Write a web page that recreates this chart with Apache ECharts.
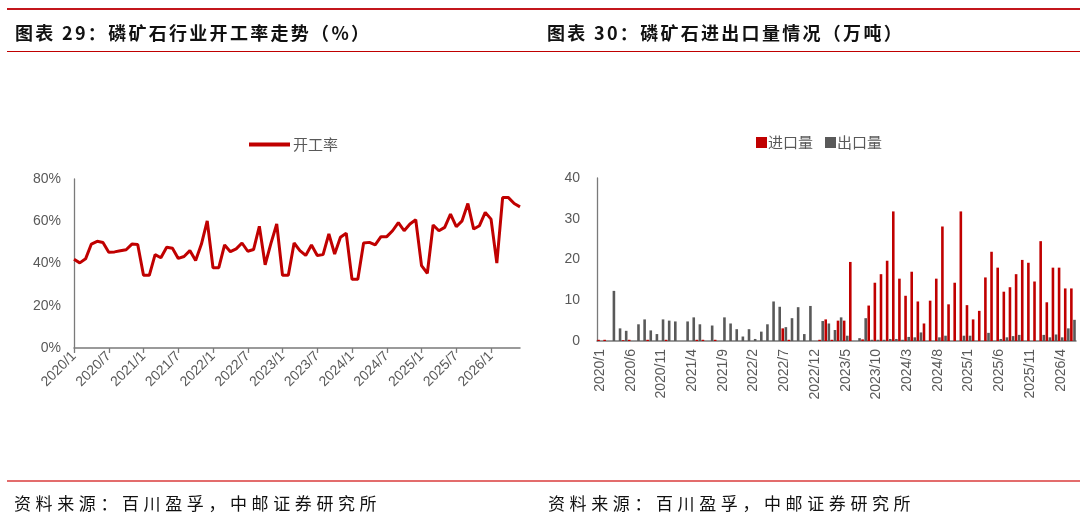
<!DOCTYPE html>
<html>
<head>
<meta charset="utf-8">
<script src="https://cdn.jsdelivr.net/npm/echarts@6/dist/echarts.min.js"></script>
<style>
  html, body { margin: 0; padding: 0; background: #fff; }
  #wrap { position: relative; width: 1080px; height: 528px; overflow: hidden; }
  #chart { position: absolute; left: 0; top: 0; width: 1080px; height: 528px; }
  .rule { position: absolute; left: 7px; right: 0; }
  .title { position: absolute; top: 19px; font-family: "Noto Sans CJK SC", sans-serif; font-weight: bold;
           font-size: 18px; letter-spacing: 2.3px; color: #111; white-space: nowrap; }
  .source { position: absolute; top: 490px; font-family: "Noto Sans CJK SC", sans-serif;
            font-size: 17px; letter-spacing: 4.6px; color: #111; white-space: nowrap; }
</style>
</head>
<body>
<div id="wrap">
  <div id="chart"></div>
  <div class="rule" style="top:8px;height:2px;background:#c3161c;"></div>
  <div class="title" style="left:15px;">图表 29：磷矿石行业开工率走势（%）</div>
  <div class="title" style="left:547px;">图表 30：磷矿石进出口量情况（万吨）</div>
  <div class="rule" style="top:51px;height:1px;background:#c00000;"></div>
  <div class="rule" style="top:480px;height:2px;background:#e36c6c;"></div>
  <div class="source" style="left:14px;">资料来源：百川盈孚，中邮证券研究所</div>
  <div class="source" style="left:548px;">资料来源：百川盈孚，中邮证券研究所</div>
</div>
<script>
// 月份 2020/1 - 2026/6
var months = [];
for (var y = 2020; y <= 2026; y++) {
    for (var m = 1; m <= 12; m++) {
        if (y == 2026 && m > 6) break;
        months.push(y + '/' + m);
    }
}

// 开工率 (%)
var rate = [
    42, 40.3, 42.2, 49.2, 50.5, 49.9, 45.3, 45.5, 46, 46.5, 49.2, 49,
    34.4, 34.4, 44.2, 42.7, 47.7, 47.2, 42.4, 43.3, 46.1, 41.4, 49.2, 60.2,
    38, 38, 48.8, 45.6, 46.9, 49.7, 45.8, 46.6, 57.6, 39.4, 49.5, 58.7,
    34.4, 34.4, 49.7, 46.1, 43.8, 48.8, 43.8, 44.2, 54, 44.5, 52.4, 54.3,
    32.5, 32.5, 49.7, 50, 48.8, 52.7, 52.7, 55.5, 59.4, 55.5, 58.7, 60.7,
    39, 35.4, 58.2, 55.5, 57.1, 63.4, 57.4, 60.2, 68.4, 56.3, 57.9, 64.2,
    61, 40.2, 71.2, 71.2, 68.4, 66.8
];

// 进口量 (万吨)
var imports = [
    0.3, 0.3, 0, 0, 0.2, 0.3, 0, 0, 0.3, 0, 0, 0.3,
    0, 0, 0, 0, 0.3, 0.3, 0, 0.3, 0, 0, 0, 0,
    0, 0, 0, 0, 0, 0, 3.1, 0.3, 0, 0, 0, 0,
    0.3, 5.3, 0.3, 5.0, 5.0, 19.4, 0, 0.4, 8.7, 14.3, 16.4, 19.7,
    31.8, 15.3, 11.1, 17.0, 9.7, 4.3, 9.9, 15.3, 28.1, 9.0, 14.3, 31.8,
    8.8, 5.3, 7.4, 15.6, 21.9, 18.0, 12.1, 13.2, 16.4, 19.9, 19.2, 14.6,
    24.5, 9.5, 18.0, 18.0, 12.9, 12.9
];

// 出口量 (万吨)
var exports_ = [
    0, 0, 12.3, 3.1, 2.5, 0, 4.1, 5.3, 2.6, 1.7, 5.3, 5.0,
    4.8, 0, 4.8, 5.8, 4.1, 0, 3.8, 0, 5.8, 4.3, 2.9, 1.1,
    2.9, 0.5, 2.3, 4.1, 9.7, 8.4, 3.4, 5.6, 8.3, 1.7, 8.6, 0,
    4.9, 4.3, 2.7, 5.8, 1.3, 0, 0.7, 5.6, 0.3, 0.3, 0.3, 0.5,
    0.5, 0.3, 1.0, 0.9, 2.1, 0, 0, 0.9, 1.3, 0, 0, 1.3,
    1.3, 0, 0, 2.0, 0, 0.5, 0.9, 1.2, 1.5, 0, 0, 0,
    1.5, 0.9, 1.6, 0.9, 3.1, 5.2
];

var rateTicks = [0, 80, 20];
var tradeTicks = [0, 40, 10];

var RED = '#c00000', GRAY = '#595959', AXIS = '#7a7a7a';
var numFont = '"Liberation Sans", Arial, sans-serif';
var cjkFont = '"Noto Sans CJK SC", sans-serif';

var chart = echarts.init(document.getElementById('chart'));

var option = {
    animation: false,
    legend: [{
        data: ['开工率'],
        left: 244, top: 132,
        icon: 'rect', itemWidth: 41, itemHeight: 4,
        textStyle: { fontFamily: cjkFont, fontSize: 15, color: GRAY, padding: [0, 0, 0, -2] }
    }, {
        data: ['进口量', '出口量'],
        left: 751, top: 130,
        icon: 'rect', itemWidth: 11, itemHeight: 11, itemGap: 12,
        textStyle: { fontFamily: cjkFont, fontSize: 15, color: GRAY, padding: [0, 0, 0, -4] }
    }],
    grid: [
        { left: 74, top: 179, width: 446, height: 169 },
        { left: 597, top: 178, width: 479, height: 163 }
    ],
    xAxis: [{
        gridIndex: 0,
        type: 'category',
        data: months,
        boundaryGap: false,
        axisLine: { lineStyle: { color: AXIS, width: 1.5 } },
        axisTick: { interval: 5, length: 5, lineStyle: { color: AXIS, width: 1.3 } },
        axisLabel: { interval: 5, rotate: 45, margin: 6, fontFamily: numFont, fontSize: 14, color: GRAY }
    }, {
        gridIndex: 1,
        type: 'category',
        data: months,
        boundaryGap: true,
        axisLine: { lineStyle: { color: AXIS, width: 1.5 } },
        axisTick: { interval: 4, length: 4, lineStyle: { color: AXIS, width: 1.3 } },
        axisLabel: { interval: 4, rotate: 90, margin: 8, fontFamily: numFont, fontSize: 14, color: GRAY }
    }],
    yAxis: [{
        gridIndex: 0,
        type: 'value',
        min: rateTicks[0], max: rateTicks[1], interval: rateTicks[2],
        axisLine: { show: true, lineStyle: { color: AXIS, width: 1.3 } },
        axisTick: { show: false },
        splitLine: { show: false },
        axisLabel: { formatter: '{value}%', margin: 13, fontFamily: numFont, fontSize: 14, color: GRAY }
    }, {
        gridIndex: 1,
        type: 'value',
        min: tradeTicks[0], max: tradeTicks[1], interval: tradeTicks[2],
        axisLine: { show: true, lineStyle: { color: AXIS, width: 1.3 } },
        axisTick: { show: false },
        splitLine: { show: false },
        axisLabel: { margin: 17, fontFamily: numFont, fontSize: 14, color: GRAY }
    }],
    series: [{
        name: '开工率',
        type: 'line',
        xAxisIndex: 0, yAxisIndex: 0,
        data: rate,
        symbol: 'none',
        itemStyle: { color: RED },
        lineStyle: { color: RED, width: 3 }
    }, {
        name: '进口量',
        type: 'bar',
        xAxisIndex: 1, yAxisIndex: 1,
        data: imports,
        barWidth: 2.6,
        barGap: '20%',
        itemStyle: { color: RED }
    }, {
        name: '出口量',
        type: 'bar',
        xAxisIndex: 1, yAxisIndex: 1,
        data: exports_,
        barWidth: 2.6,
        itemStyle: { color: GRAY }
    }]
};

chart.setOption(option);
</script>
</body>
</html>
